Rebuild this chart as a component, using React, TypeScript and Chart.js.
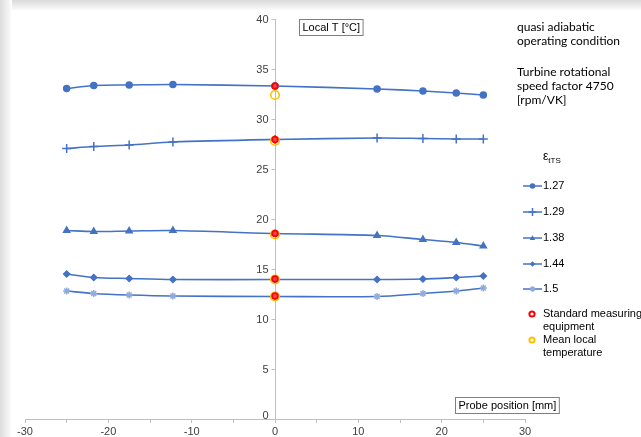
import React, { useEffect, useRef } from 'react';
import { Chart, registerables } from 'chart.js';

Chart.register(...registerables);

// Probe positions [mm] and local temperatures [°C] per total-to-static pressure ratio
const positions = [-25, -21.75, -17.5, -12.25, 0, 12.25, 17.75, 21.75, 25];
const ratioLabels = ['1.27', '1.29', '1.38', '1.44', '1.5'];
const t127 = [33.05, 33.35, 33.4, 33.45, 33.3, 33.0, 32.8, 32.6, 32.4];
const t129 = [27.05, 27.25, 27.4, 27.7, 27.95, 28.1, 28.05, 28.0, 28.0];
const t138 = [18.85, 18.75, 18.8, 18.85, 18.55, 18.35, 17.95, 17.65, 17.3];
const t144 = [14.5, 14.15, 14.05, 13.95, 13.95, 13.95, 14.0, 14.15, 14.3];
const t150 = [12.8, 12.55, 12.4, 12.3, 12.25, 12.25, 12.55, 12.8, 13.1];
// Reference readings at the channel centre (x = 0)
const standardT = [33.3, 27.95, 18.55, 14.0, 12.3];
const meanLocalT = [32.4, 27.8, 18.45, 13.95, 12.25];
const xTicks = [-30, -20, -10, 0, 10, 20, 30];

const BLUE = '#4472C4';
const LIGHT_BLUE = '#8FAADC';
const RED = '#FF0000';
const ORANGE = '#FFC000';
const AXIS = '#BFBFBF';
const FONT = "'Liberation Sans', Arial, sans-serif";
const NOTE_FONT = "Lato, 'Open Sans', sans-serif";

const seriesValues = [t127, t129, t138, t144, t150];
const seriesStyles: any[] = [
  { pointStyle: 'circle', radius: 3, color: BLUE },
  { pointStyle: 'cross', radius: 4.5, color: BLUE },
  { pointStyle: 'triangle', radius: 3.5, color: BLUE },
  { pointStyle: 'rectRot', radius: 3, color: BLUE },
  { pointStyle: 'star', radius: 3.5, color: LIGHT_BLUE },
];

function drawMarker(ctx: CanvasRenderingContext2D, style: string, x: number, y: number, r: number, color: string) {
  ctx.save();
  ctx.fillStyle = color;
  ctx.strokeStyle = color;
  ctx.lineWidth = 1.5;
  ctx.beginPath();
  if (style === 'circle') {
    ctx.arc(x, y, r, 0, Math.PI * 2);
    ctx.fill();
  } else if (style === 'cross') {
    ctx.moveTo(x - r, y); ctx.lineTo(x + r, y);
    ctx.moveTo(x, y - r); ctx.lineTo(x, y + r);
    ctx.stroke();
  } else if (style === 'triangle') {
    ctx.moveTo(x, y - r);
    ctx.lineTo(x + r, y + r * 0.75);
    ctx.lineTo(x - r, y + r * 0.75);
    ctx.closePath();
    ctx.fill();
  } else if (style === 'rectRot') {
    ctx.moveTo(x, y - r); ctx.lineTo(x + r, y); ctx.lineTo(x, y + r); ctx.lineTo(x - r, y);
    ctx.closePath();
    ctx.fill();
  } else if (style === 'star') {
    ctx.moveTo(x - r, y); ctx.lineTo(x + r, y);
    ctx.moveTo(x, y - r); ctx.lineTo(x, y + r);
    const d = r * 0.7;
    ctx.moveTo(x - d, y - d); ctx.lineTo(x + d, y + d);
    ctx.moveTo(x - d, y + d); ctx.lineTo(x + d, y - d);
    ctx.stroke();
  }
  ctx.restore();
}

// Tick marks and labels of the temperature axis, which crosses at x = 0
const centreAxisTicks = {
  id: 'centreAxisTicks',
  afterDraw(chart: any) {
    const ctx: CanvasRenderingContext2D = chart.ctx;
    const xs = chart.scales.x;
    const ys = chart.scales.y;
    const x0 = Math.round(xs.getPixelForValue(0)) + 0.5;
    ctx.save();
    ctx.strokeStyle = AXIS;
    ctx.lineWidth = 1;
    ctx.fillStyle = '#404040';
    ctx.font = `11px ${FONT}`;
    ctx.textAlign = 'right';
    ctx.textBaseline = 'middle';
    ys.ticks.forEach((t: any) => {
      const y = Math.round(ys.getPixelForValue(t.value)) + 0.5;
      ctx.beginPath();
      ctx.moveTo(x0 - 4, y);
      ctx.lineTo(x0, y);
      ctx.stroke();
      ctx.fillText(String(t.value), x0 - 7, t.value === 0 ? y - 4 : y);
    });
    ctx.restore();
  },
};

const annotations = {
  id: 'annotations',
  afterDraw(chart: any) {
    const ctx: CanvasRenderingContext2D = chart.ctx;
    ctx.save();
    ctx.textBaseline = 'middle';
    ctx.textAlign = 'left';

    // Axis title boxes
    const box = (text: string, x: number, y: number) => {
      ctx.font = `11px ${FONT}`;
      const w = ctx.measureText(text).width + 6;
      ctx.fillStyle = '#FFFFFF';
      ctx.fillRect(x, y, w, 16);
      ctx.strokeStyle = '#7F7F7F';
      ctx.lineWidth = 1;
      ctx.strokeRect(x + 0.5, y + 0.5, w, 16);
      ctx.fillStyle = '#000000';
      ctx.fillText(text, x + 3.5, y + 9);
    };
    box('Local T [°C]', 299, 19);
    box('Probe position [mm]', 455, 397);

    // Operating-point notes
    ctx.fillStyle = '#000000';
    ctx.font = `12px ${NOTE_FONT}`;
    const notes = [
      ['quasi adiabatic', 27],
      ['operating condition', 41],
      ['Turbine rotational', 72],
      ['speed factor 4750', 86],
      ['[rpm/VK]', 100],
    ];
    notes.forEach(([t, y]) => ctx.fillText(t as string, 517, y as number));

    // Legend
    ctx.font = `12px ${FONT}`;
    ctx.fillText('ε', 543, 157);
    const ew = ctx.measureText('ε').width;
    ctx.font = `8px ${FONT}`;
    ctx.fillText('tTS', 543 + ew, 161);

    ctx.font = `11px ${FONT}`;
    const rowY = [186, 212, 238, 264, 289];
    ratioLabels.forEach((label, i) => {
      const y = rowY[i];
      const st = seriesStyles[i];
      ctx.strokeStyle = BLUE;
      ctx.lineWidth = 1.5;
      ctx.beginPath();
      ctx.moveTo(523, y);
      ctx.lineTo(542, y);
      ctx.stroke();
      drawMarker(ctx, st.pointStyle, 532.5, y, st.pointStyle === 'cross' ? 4 : 2.8, st.color);
      ctx.fillStyle = '#000000';
      ctx.fillText(label, 543, y);
    });

    const ring = (x: number, y: number, color: string) => {
      ctx.beginPath();
      ctx.arc(x, y, 2.6, 0, Math.PI * 2);
      ctx.strokeStyle = color;
      ctx.lineWidth = 2;
      ctx.stroke();
    };
    ring(532, 314, RED);
    ring(532, 340, ORANGE);
    ctx.fillStyle = '#000000';
    ctx.fillText('Standard measuring', 543, 314);
    ctx.fillText('equipment', 543, 327);
    ctx.fillText('Mean local', 543, 340);
    ctx.fillText('temperature', 543, 353);
    ctx.restore();
  },
};

export default function App() {
  const canvasRef = useRef<HTMLCanvasElement | null>(null);

  useEffect(() => {
    if (!canvasRef.current) return;
    const lineSets = seriesValues.map((vals, i) => ({
      label: ratioLabels[i],
      data: positions.map((x, j) => ({ x, y: vals[j] })),
      borderColor: BLUE,
      borderWidth: 1.6,
      backgroundColor: seriesStyles[i].color,
      pointBorderColor: seriesStyles[i].color,
      pointBackgroundColor: seriesStyles[i].color,
      pointStyle: seriesStyles[i].pointStyle,
      pointRadius: seriesStyles[i].radius,
      pointBorderWidth: 1.5,
      tension: 0.3,
      showLine: true,
      order: 3,
    }));
    const chart = new Chart(canvasRef.current, {
      type: 'scatter',
      data: {
        datasets: [
          {
            label: 'Standard measuring equipment',
            data: standardT.map((y) => ({ x: 0, y })),
            pointStyle: 'circle',
            pointRadius: 2.8,
            pointBorderWidth: 1.8,
            pointBorderColor: RED,
            pointBackgroundColor: 'rgba(255,60,60,0.85)',
            showLine: false,
            order: 0,
          },
          {
            label: 'Mean local temperature',
            data: meanLocalT.map((y) => ({ x: 0, y })),
            pointStyle: 'circle',
            pointRadius: 4.3,
            pointBorderWidth: 1.6,
            pointBorderColor: ORANGE,
            pointBackgroundColor: 'rgba(255,255,255,0)',
            showLine: false,
            order: 1,
          },
          ...lineSets,
        ] as any,
      },
      options: {
        responsive: false,
        animation: false,
        layout: { padding: { left: 25, right: 116, top: 19, bottom: 0 } },
        plugins: {
          legend: { display: false },
          tooltip: { enabled: false },
          title: { display: false },
        },
        scales: {
          x: {
            type: 'linear',
            position: 'bottom',
            min: -30,
            max: 30,
            ticks: {
              stepSize: 5,
              autoSkip: false,
              maxRotation: 0,
              padding: 2,
              color: '#404040',
              font: { family: FONT, size: 11 },
              callback: (v: any) => (xTicks.includes(Number(v)) ? String(v) : ''),
            },
            grid: { drawOnChartArea: false, drawTicks: true, tickLength: 4, color: AXIS },
            border: { color: AXIS, width: 1 },
            afterFit: (scale: any) => {
              scale.height = 18;
            },
          },
          y: {
            type: 'linear',
            position: { x: 0 } as any,
            min: 0,
            max: 40,
            ticks: { stepSize: 5, display: false },
            grid: { drawOnChartArea: false, drawTicks: false },
            border: { color: AXIS, width: 1 },
          },
        },
      } as any,
      plugins: [centreAxisTicks, annotations],
    });
    return () => chart.destroy();
  }, []);

  return (
    <div
      style={{
        position: 'fixed',
        left: 0,
        top: 0,
        width: 641,
        height: 437,
        background: '#FFFFFF',
        overflow: 'hidden',
      }}
    >
      <canvas ref={canvasRef} width={641} height={437} style={{ position: 'absolute', left: 0, top: 0 }} />
      <div
        style={{
          position: 'absolute',
          left: 0,
          top: 0,
          width: 641,
          height: 11,
          background: 'linear-gradient(to bottom, #DADADA, #F3F3F3 70%, #FFFFFF)',
          pointerEvents: 'none',
        }}
      />
      <div
        style={{
          position: 'absolute',
          left: 0,
          top: 0,
          width: 12,
          height: 437,
          background: 'linear-gradient(to right, #DCDCDC, #F3F3F3 70%, #FFFFFF)',
          pointerEvents: 'none',
        }}
      />
    </div>
  );
}
